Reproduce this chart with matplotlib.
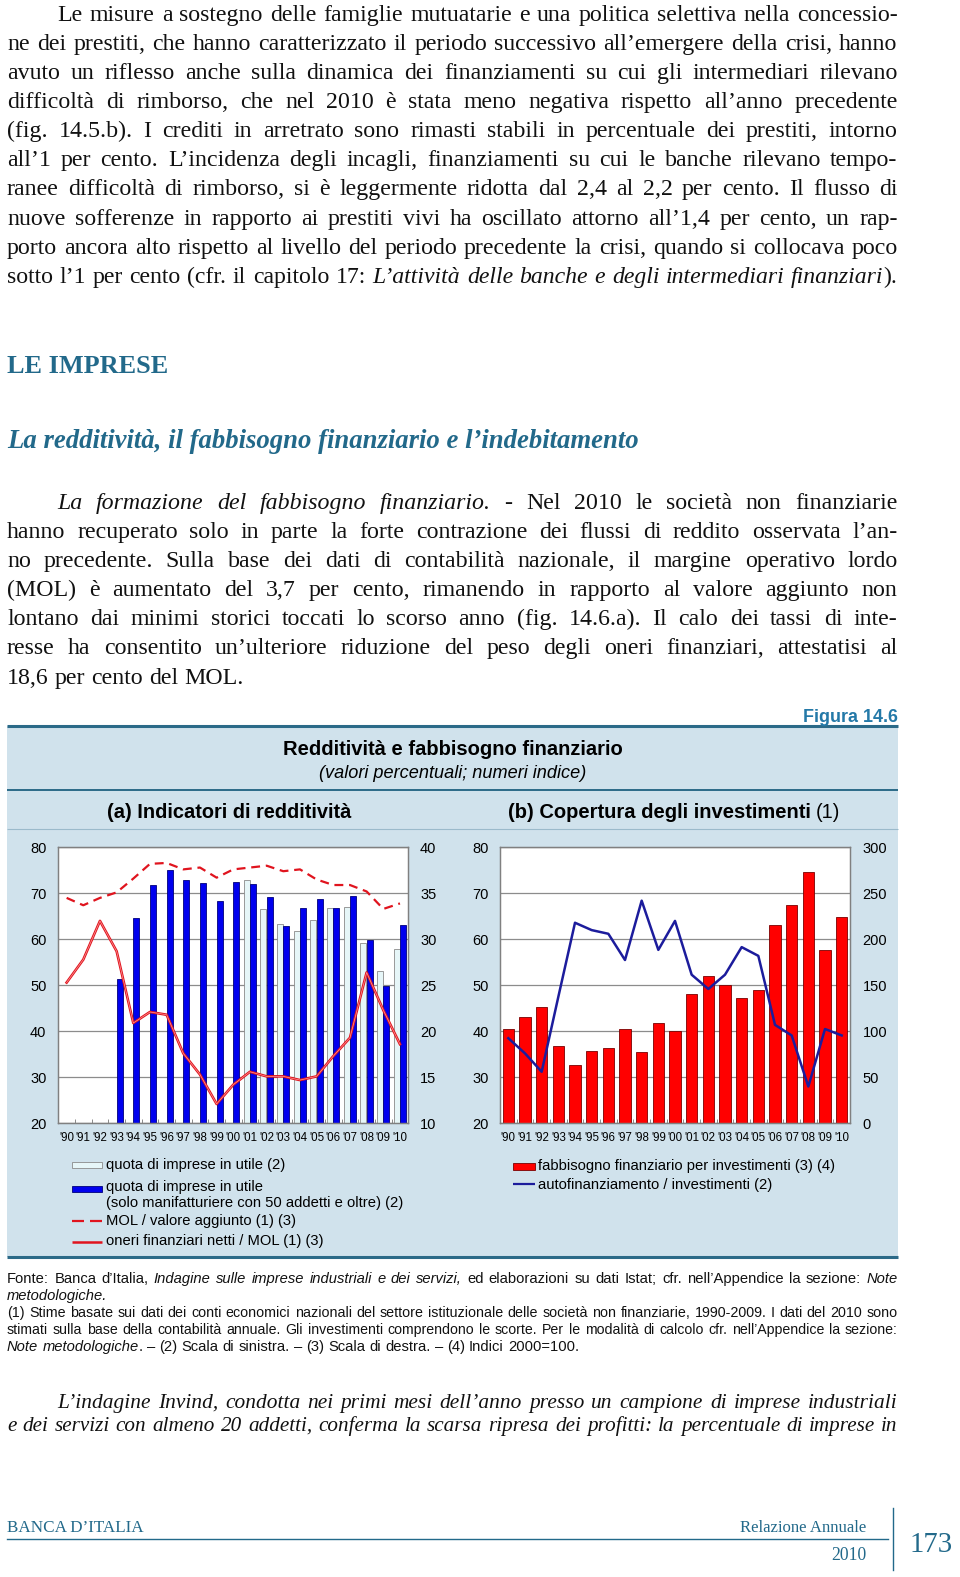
import matplotlib
matplotlib.use("Agg")
import numpy as np
import matplotlib.pyplot as plt
from matplotlib.patches import Rectangle

# ---------------- data ----------------
years = list(range(1990, 2011))
year_labels = ["'" + str(y)[2:] for y in years]

# (a) indicatori di redditivita
anni_utile = list(range(2001, 2011))
quota_utile = [73.0, 66.5, 63.3, 61.8, 64.2, 66.7, 67.1, 59.1, 53.0, 57.8]
anni_manif = list(range(1993, 2011))
quota_utile_manif = [51.3, 64.6, 71.8, 75.1, 72.8, 72.3, 68.3, 72.4, 72.0, 69.1,
                     62.8, 66.9, 68.8, 66.7, 69.4, 59.9, 49.9, 63.1]
mol_va = [34.5, 33.7, 34.5, 35.1, 36.6, 38.2, 38.3, 37.6, 37.8, 36.7, 37.6,
          37.8, 38.0, 37.4, 37.6, 36.5, 35.9, 35.9, 35.2, 33.3, 33.9]
oneri_mol = [25.3, 27.8, 32.0, 28.7, 20.9, 22.1, 21.8, 17.6, 15.3, 12.1, 14.2,
             15.6, 15.1, 15.1, 14.7, 15.1, 17.3, 19.3, 26.4, 22.3, 18.6]

# (b) copertura degli investimenti
fabbisogno = [102, 115, 126, 84, 63, 79, 82, 102, 77, 109, 100,
              141, 160, 150, 136, 145, 215, 237, 273, 188, 224]
autofin = [38.5, 35.2, 31.2, 47.5, 63.6, 62.0, 61.2, 55.5, 68.4, 57.7, 64.0,
           52.3, 49.2, 52.3, 58.3, 56.4, 41.4, 39.1, 28.0, 40.5, 39.1]

# ---------------- page text ----------------
par1 = [
    "Le misure a sostegno delle famiglie mutuatarie e una politica selettiva nella concessio-",
    "ne dei prestiti, che hanno caratterizzato il periodo successivo all’emergere della crisi, hanno",
    "avuto un riflesso anche sulla dinamica dei finanziamenti su cui gli intermediari rilevano",
    "difficoltà di rimborso, che nel 2010 è stata meno negativa rispetto all’anno precedente",
    "(fig. 14.5.b). I crediti in arretrato sono rimasti stabili in percentuale dei prestiti, intorno",
    "all’1 per cento. L’incidenza degli incagli, finanziamenti su cui le banche rilevano tempo-",
    "ranee difficoltà di rimborso, si è leggermente ridotta dal 2,4 al 2,2 per cento. Il flusso di",
    "nuove sofferenze in rapporto ai prestiti vivi ha oscillato attorno all’1,4 per cento, un rap-",
    "porto ancora alto rispetto al livello del periodo precedente la crisi, quando si collocava poco",
    "sotto l’1 per cento (cfr. il capitolo 17: *L’attività delle banche e degli intermediari finanziari*).",
]
par2 = [
    "*La formazione del fabbisogno finanziario.* - Nel 2010 le società non finanziarie",
    "hanno recuperato solo in parte la forte contrazione dei flussi di reddito osservata l’an-",
    "no precedente. Sulla base dei dati di contabilità nazionale, il margine operativo lordo",
    "(MOL) è aumentato del 3,7 per cento, rimanendo in rapporto al valore aggiunto non",
    "lontano dai minimi storici toccati lo scorso anno (fig. 14.6.a). Il calo dei tassi di inte-",
    "resse ha consentito un’ulteriore riduzione del peso degli oneri finanziari, attestatisi al",
    "18,6 per cento del MOL.",
]
par3 = [
    "L’indagine Invind, condotta nei primi mesi dell’anno presso un campione di imprese industriali",
    "e dei servizi con almeno 20 addetti, conferma la scarsa ripresa dei profitti: la percentuale di imprese in",
]
note_lines = [
    "Fonte: Banca d’Italia, *Indagine sulle imprese industriali e dei servizi,* ed elaborazioni su dati Istat; cfr. nell’Appendice la sezione: *Note*",
    "*metodologiche.*",
    "(1) Stime basate sui dati dei conti economici nazionali del settore istituzionale delle società non finanziarie, 1990-2009. I dati del 2010 sono",
    "stimati sulla base della contabilità annuale. Gli investimenti comprendono le scorte. Per le modalità di calcolo cfr. nell’Appendice la sezione:",
    "*Note metodologiche*. – (2) Scala di sinistra. – (3) Scala di destra. – (4) Indici 2000=100.",
]

SERIF = "Liberation Serif"
SANS = "Liberation Sans"
TEAL = "#22698a"
BOX = "#d0e2ec"
plt.rcParams["font.family"] = SANS

W, H = 960, 1577
fig = plt.figure(figsize=(W / 100, H / 100), dpi=100)
page = fig.add_axes([0, 0, 1, 1])
page.set_xlim(0, W)
page.set_ylim(H, 0)
page.axis("off")
renderer = fig.canvas.get_renderer()


def measure(s, size, family, italic=False, weight="normal"):
    t = page.text(0, 0, s, fontsize=size, family=family,
                  style="italic" if italic else "normal", weight=weight)
    w = t.get_window_extent(renderer).width
    t.remove()
    return w


def parse(markup):
    words, ital = [], False
    for tok in markup.split(" "):
        pieces = []
        for k, p in enumerate(tok.split("*")):
            if k > 0:
                ital = not ital
            if p:
                pieces.append((p, ital))
        if pieces:
            words.append(pieces)
    return words


def natural_width(markup, size, family, base_italic=False):
    words = parse(markup)
    tot = sum(measure(p, size, family, it != base_italic) for w in words for p, it in w)
    sp = measure("n n", size, family) - measure("nn", size, family)
    return tot + sp * (len(words) - 1)


def set_line(markup, x0, x1, y, size, family, justify, base_italic=False, color="#111111"):
    # a line is shrunk only if it cannot fit at the common size
    if justify:
        nat = natural_width(markup, size, family, base_italic)
        if nat > (x1 - x0) * 0.99:
            size = size * (x1 - x0) * 0.99 / nat
    words = parse(markup)
    widths = [[measure(p, size, family, it != base_italic) for p, it in w] for w in words]
    total = sum(sum(ws) for ws in widths)
    sp = measure("n n", size, family) - measure("nn", size, family)
    gap = (x1 - x0 - total) / (len(words) - 1) if justify and len(words) > 1 else sp
    x = x0
    y = round(y)
    for w, ws in zip(words, widths):
        for (p, it), pw in zip(w, ws):
            page.text(x, y, p, fontsize=size, family=family, color=color,
                      style="italic" if it != base_italic else "normal",
                      ha="left", va="baseline")
            x += pw
        x += gap


def fit_text(x, y, s, width, **kw):
    size = 20 * width / measure(s, 20, kw.get("family", SANS),
                                kw.get("style", "normal") == "italic",
                                kw.get("weight", "normal"))
    page.text(x, y, s, fontsize=size, **kw)
    return size


LEFT, RIGHT, INDENT = 7.0, 897.6, 57.3

# body paragraphs 1 and 2
for i, s in enumerate(par1):
    set_line(s, INDENT if i == 0 else LEFT, RIGHT, 20.6 + 29.15 * i, 17.2, SERIF, True)
for i, s in enumerate(par2):
    set_line(s, INDENT if i == 0 else LEFT, RIGHT, 508.6 + 29.15 * i, 17.2, SERIF,
             i < len(par2) - 1)

# paragraph 3 (italic)
for i, s in enumerate(par3):
    set_line(s, INDENT if i == 0 else LEFT, RIGHT, 1408.5 + 22.2 * i, 15.4, SERIF, True,
             base_italic=True)

# headings
fit_text(LEFT, 373, "LE IMPRESE", 160, family=SERIF, weight="bold", color=TEAL,
         ha="left", va="baseline")
fit_text(LEFT, 448, "La redditività, il fabbisogno finanziario e l’indebitamento", 634,
         family=SERIF, weight="bold", style="italic", color=TEAL, ha="left", va="baseline")

# ---------------- figure box ----------------
page.add_patch(Rectangle((LEFT, 726), RIGHT - LEFT, 1257 - 726, facecolor=BOX,
                         edgecolor="none", zorder=0))
page.plot([LEFT, RIGHT], [726, 726], color="#2b6a88", lw=2.2, solid_capstyle="butt")
page.plot([LEFT, RIGHT], [790, 790], color="#2b6a88", lw=1.4, solid_capstyle="butt")
page.plot([LEFT, RIGHT], [829, 829], color="#9bbacb", lw=0.8, solid_capstyle="butt")
page.plot([LEFT, RIGHT], [1257, 1257], color="#2b6a88", lw=2.2, solid_capstyle="butt")

fit_text(RIGHT, 717.5, "Figura 14.6", 94, weight="bold", color="#2479a8", ha="right", va="center")
fit_text(452.5, 749.5, "Redditività e fabbisogno finanziario", 339, weight="bold",
         ha="center", va="center")
fit_text(452.5, 773, "(valori percentuali; numeri indice)", 267, style="italic",
         ha="center", va="center")
fit_text(229.5, 812, "(a) Indicatori di redditività", 245, weight="bold",
         ha="center", va="center")
bsz = fit_text(811, 812, "(b) Copertura degli investimenti", 302, weight="bold",
               ha="right", va="center")
page.text(816, 812, "(1)", fontsize=bsz, ha="left", va="center")


def add_axes_px(x0, y0, x1, y1):
    return fig.add_axes([x0 / W, 1 - y1 / H, (x1 - x0) / W, (y1 - y0) / H])


GRID = "#8c8c8c"


def style_axes(ax):
    ax.set_facecolor("white")
    for sp in ax.spines.values():
        sp.set_color("#808080")
        sp.set_linewidth(0.9)
    ax.set_xlim(1989.5, 2010.5)
    ax.set_xticks(years)
    ax.set_xticklabels(year_labels, fontsize=8.3)
    ax.set_xticks(np.arange(1990.5, 2010, 1), minor=True)
    ax.tick_params(axis="x", which="major", length=0, pad=6)
    ax.tick_params(axis="x", which="minor", direction="in", length=3, color="#777777")
    ax.tick_params(axis="y", length=0, pad=8.5, labelsize=10.5)
    ax.grid(axis="y", color=GRID, lw=0.9)
    ax.set_axisbelow(True)


def style_twin(ax, pad):
    ax.tick_params(axis="y", length=0, pad=pad, labelsize=10.5)
    for sp in ax.spines.values():
        sp.set_color("#808080")
        sp.set_linewidth(0.9)


# (a)
ax_a = add_axes_px(58.3, 847.3, 408.3, 1123.3)
style_axes(ax_a)
ax_a.bar(np.array(anni_utile) - 0.2, quota_utile, width=0.36, color="#e6f6f8",
         edgecolor="#8a8a8a", lw=0.6)
ax_a.bar(np.array(anni_manif) + 0.18, quota_utile_manif, width=0.36, color="#0000ee",
         edgecolor="#00007a", lw=0.6)
ax_a.set_ylim(20, 80)
ax_a.set_yticks(range(20, 81, 10))

ax_a2 = ax_a.twinx()
ax_a2.plot(years, mol_va, color="#e0141e", lw=1.6, dashes=(4, 2.6))
ax_a2.plot(years, oneri_mol, color="#e0141e", lw=1.9)
ax_a2.plot(years, oneri_mol, color="#ff9a9a", lw=0.5)
ax_a2.set_ylim(10, 40)
ax_a2.set_yticks(range(10, 41, 5))
style_twin(ax_a2, 8.5)

# (b): bars on the right scale, line on the left scale
ax_b = add_axes_px(500, 847.3, 850, 1123.3)
style_axes(ax_b)
ax_b.bar(years, fabbisogno, width=0.68, color="#ff0000", edgecolor="#7a0000", lw=0.6)
ax_b.set_ylim(0, 300)
ax_b.set_yticks(range(0, 301, 50))

ax_b2 = ax_b.twinx()
ax_b2.plot(years, autofin, color="#1c1c9c", lw=1.8)
ax_b2.set_ylim(20, 80)
ax_b2.set_yticks(range(20, 81, 10))
ax_b.yaxis.tick_right()
ax_b2.yaxis.tick_left()
style_twin(ax_b2, 8)
ax_b.tick_params(axis="y", length=0, pad=9, labelsize=10.5)

# legends
LEG = 10.6
page.add_patch(Rectangle((72, 1162), 30, 6, facecolor="#e6f6f8", edgecolor="#8a8a8a", lw=0.6))
page.text(106.5, 1165.5, "quota di imprese in utile (2)", fontsize=LEG, va="center")
page.add_patch(Rectangle((72, 1185.5), 30, 6, facecolor="#0000ee", edgecolor="#00007a", lw=0.6))
page.text(106.5, 1187.5, "quota di imprese in utile", fontsize=LEG, va="center")
page.text(106.5, 1202.5, "(solo manifatturiere con 50 addetti e oltre) (2)", fontsize=LEG, va="center")
page.plot([72, 84], [1220.5, 1220.5], color="#e0141e", lw=1.6, solid_capstyle="butt")
page.plot([90, 102], [1220.5, 1220.5], color="#e0141e", lw=1.6, solid_capstyle="butt")
page.text(106.5, 1220.5, "MOL / valore aggiunto (1) (3)", fontsize=LEG, va="center")
page.plot([72, 102], [1241.5, 1241.5], color="#e0141e", lw=1.8, solid_capstyle="butt")
page.text(106.5, 1241.5, "oneri finanziari netti / MOL (1) (3)", fontsize=LEG, va="center")

page.add_patch(Rectangle((513, 1162.5), 22, 7, facecolor="#ff0000", edgecolor="#7a0000", lw=0.6))
page.text(538.5, 1166, "fabbisogno finanziario per investimenti (3) (4)", fontsize=LEG, va="center")
page.plot([513, 535], [1184, 1184], color="#1c1c9c", lw=1.6, solid_capstyle="butt")
page.text(538.5, 1185, "autofinanziamento / investimenti (2)", fontsize=LEG, va="center")

# notes under the figure
for i, s in enumerate(note_lines):
    set_line(s, LEFT, RIGHT, 1282.6 + 17.08 * i, 10.6, SANS, i in (0, 2, 3))

# ---------------- page footer ----------------
fit_text(LEFT, 1528, "BANCA D’ITALIA", 137, family=SERIF, color=TEAL, ha="left", va="center")
fit_text(866, 1528, "Relazione Annuale", 127, family=SERIF, color=TEAL, ha="right", va="center")
fit_text(866, 1556, "2010", 35, family=SERIF, color=TEAL, ha="right", va="center")
fit_text(910, 1545, "173", 43, family=SERIF, color=TEAL, ha="left", va="center")
page.plot([LEFT, 888], [1539, 1539], color=TEAL, lw=1.0)
page.plot([893, 893], [1508, 1570], color=TEAL, lw=1.0)

fig.savefig("out.png", dpi=100, facecolor="white")
